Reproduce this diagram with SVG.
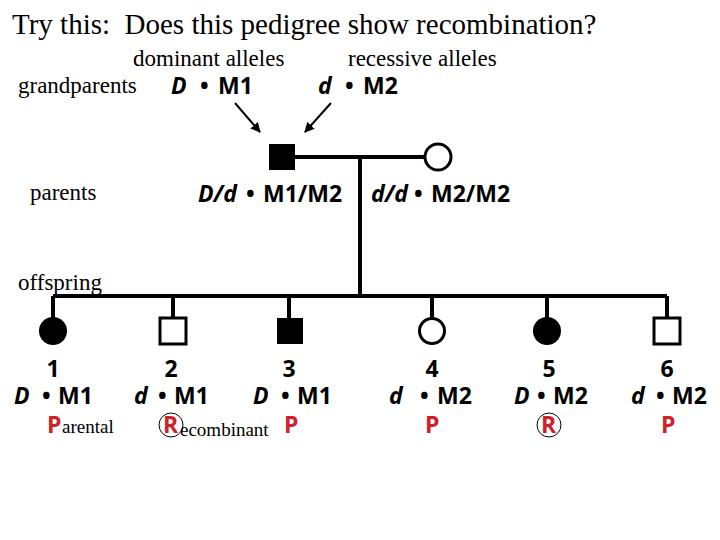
<svg xmlns="http://www.w3.org/2000/svg" width="720" height="540" viewBox="0 0 720 540">
<style>
.t{font-family:"Liberation Serif",serif;fill:#000}
.s{font-family:"Open Sans","DejaVu Sans",sans-serif;font-weight:bold;font-size:23px;fill:#000}
.i{font-style:italic}
.r{font-family:"Open Sans","DejaVu Sans",sans-serif;font-weight:bold;font-size:23px;fill:#d0202a}
.ln{stroke:#000;stroke-width:4;fill:none}
.f{fill:#000}
.o{fill:#fff;stroke:#000;stroke-width:3}
</style>
<defs><marker id="a" viewBox="0 0 10 10" refX="9" refY="5" markerWidth="5" markerHeight="5" orient="auto"><path d="M0,0L10,5L0,10z" fill="#000"/></marker></defs>
<rect width="720" height="540" fill="#fff"/>
<text class="t" x="12" y="34" font-size="29" xml:space="preserve">Try this:  Does this pedigree show recombination?</text>
<text class="t" x="133" y="66" font-size="23">dominant alleles</text>
<text class="t" x="348" y="66" font-size="23">recessive alleles</text>
<text class="t" x="18" y="93" font-size="23">grandparents</text>
<text class="t" x="30" y="200" font-size="23">parents</text>
<text class="t" x="18" y="290" font-size="23">offspring</text>
<text class="s" y="94"><tspan class="i" x="171">D</tspan><tspan x="200">•</tspan><tspan x="218">M1</tspan></text>
<text class="s" y="94"><tspan class="i" x="318">d</tspan><tspan x="345">•</tspan><tspan x="363">M2</tspan></text>
<g id="connectors">
<line x1="235" y1="103" x2="260" y2="132" stroke="#000" stroke-width="2" marker-end="url(#a)"/>
<line x1="331" y1="103" x2="305" y2="132" stroke="#000" stroke-width="2" marker-end="url(#a)"/>
<path class="ln" d="M295,157H426M360,157V296M53,296H667M53,296V318M173,296V318M289,296V318M432,296V318M547,296V318M667,296V318"/>
</g>
<g id="father"><rect class="f" x="269" y="144" width="26" height="26"/></g>
<g id="mother"><circle class="o" cx="438" cy="157" r="13"/></g>
<text class="s" y="202"><tspan class="i" x="198">D/d</tspan><tspan x="246">•</tspan><tspan x="263">M1/M2</tspan></text>
<text class="s" y="202"><tspan class="i" x="371">d/d</tspan><tspan x="414">•</tspan><tspan x="431">M2/M2</tspan></text>
<g id="c1"><circle class="f" cx="53" cy="331" r="14"/></g>
<g id="c2"><rect class="o" x="160" y="318" width="26" height="26"/></g>
<g id="c3"><rect class="f" x="277" y="318" width="26" height="26"/></g>
<g id="c4"><circle class="o" cx="432" cy="331" r="12.5"/></g>
<g id="c5"><circle class="f" cx="547" cy="331" r="14"/></g>
<g id="c6"><rect class="o" x="654" y="318" width="26" height="26"/></g>
<g text-anchor="middle">
<text class="s" x="53" y="377">1</text><text class="s" x="171" y="377">2</text><text class="s" x="289" y="377">3</text>
<text class="s" x="432" y="377">4</text><text class="s" x="549" y="377">5</text><text class="s" x="667" y="377">6</text>
</g>
<text class="s" y="404"><tspan class="i" x="14">D</tspan><tspan x="42">•</tspan><tspan x="58">M1</tspan></text>
<text class="s" y="404"><tspan class="i" x="134">d</tspan><tspan x="158">•</tspan><tspan x="174">M1</tspan></text>
<text class="s" y="404"><tspan class="i" x="253">D</tspan><tspan x="281">•</tspan><tspan x="297">M1</tspan></text>
<text class="s" y="404"><tspan class="i" x="389">d</tspan><tspan x="420">•</tspan><tspan x="437">M2</tspan></text>
<text class="s" y="404"><tspan class="i" x="514">D</tspan><tspan x="537">•</tspan><tspan x="553">M2</tspan></text>
<text class="s" y="404"><tspan class="i" x="631">d</tspan><tspan x="656">•</tspan><tspan x="672">M2</tspan></text>
<text class="r" x="47" y="433">P</text><text class="t" x="62" y="433" font-size="19">arental</text>
<circle cx="171" cy="425" r="12" fill="none" stroke="#000" stroke-width="1"/>
<text class="r" x="163" y="433">R</text><text class="t" x="180" y="436" font-size="19">ecombinant</text>
<text class="r" x="284" y="433">P</text>
<text class="r" x="425" y="433">P</text>
<circle cx="549" cy="425" r="12" fill="none" stroke="#000" stroke-width="1"/>
<text class="r" x="541" y="433">R</text>
<text class="r" x="661" y="433">P</text>
</svg>
